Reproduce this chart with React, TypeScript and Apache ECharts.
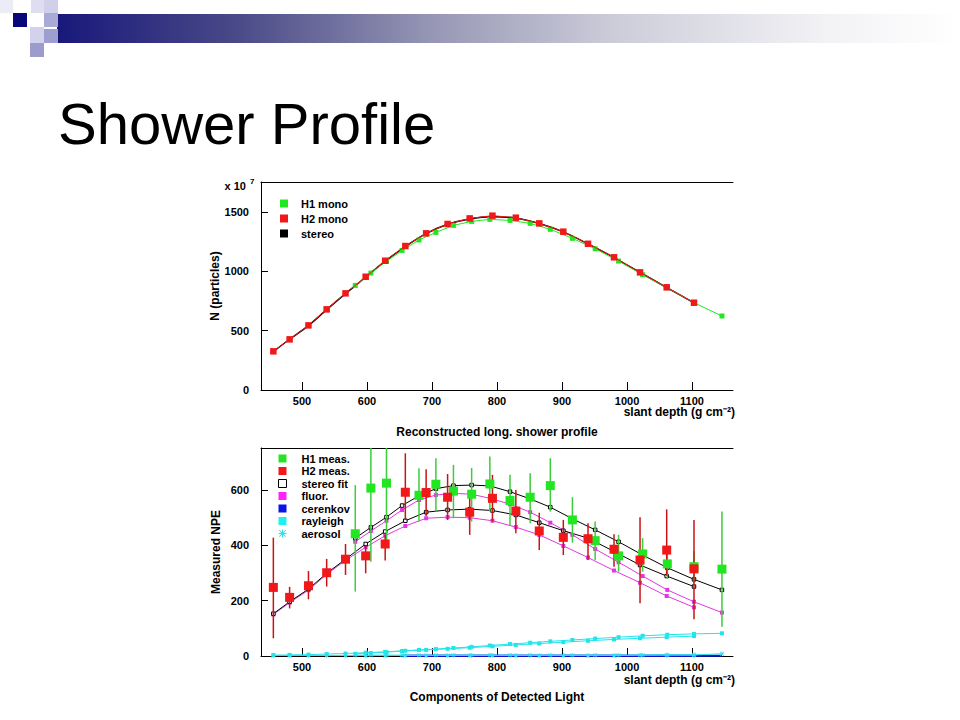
import React, { useEffect, useRef } from "react";
import * as echarts from "echarts";

// ---------- data ----------
const H2_DEPTH = [456, 481, 510, 538, 567, 598, 628, 659, 691, 724, 758, 793, 829, 865, 902, 940, 980, 1020, 1061, 1103];
const H1_DEPTH = [582, 606, 630, 654, 680, 706, 733, 761, 789, 820, 851, 882, 916, 951, 987, 1024, 1062, 1103, 1146];

// top panel: N (particles) x 10^7
const H1_MONO = [882, 986, 1085, 1177, 1265, 1329, 1388, 1422, 1439, 1430, 1405, 1355, 1279, 1191, 1087, 972, 862, 736, 624];
const H2_MONO = [326, 427, 545, 680, 815, 955, 1090, 1214, 1321, 1400, 1447, 1470, 1453, 1405, 1335, 1233, 1119, 992, 866, 736];
const STEREO = [324, 428, 543, 678, 813, 951, 1086, 1210, 1318, 1397, 1442, 1460, 1449, 1404, 1333, 1232, 1117, 991, 864, 734];

// bottom panel: measured NPE
const H1_MEAS_DEPTH = [582, 606, 630, 680, 706, 733, 761, 789, 820, 851, 882, 916, 951, 987, 1024, 1062, 1103, 1146];
const H1_MEAS = [442, 607, 625, 581, 621, 596, 585, 622, 562, 574, 616, 492, 417, 362, 369, 333, 323, 314];
const H1_LO = [233, 341, 413, 486, 522, 498, 486, 522, 474, 480, 522, 410, 347, 305, 305, 280, 265, 106];
const H1_HI = [618, 780, 780, 679, 715, 691, 680, 721, 655, 661, 715, 574, 486, 438, 426, 395, 380, 522];

const H2_MEAS = [248, 212, 254, 301, 350, 362, 405, 592, 591, 574, 520, 570, 524, 452, 429, 424, 386, 347, 383, 315];
const H2_LO = [64, 172, 205, 251, 293, 299, 345, 492, 506, 492, 438, 486, 444, 383, 365, 347, 323, 191, 290, 133];
const H2_HI = [428, 250, 307, 351, 405, 398, 438, 733, 675, 658, 594, 655, 600, 518, 492, 480, 440, 502, 530, 492];

const FIT_H1 = [426, 465, 502, 544, 579, 605, 616, 618, 615, 594, 568, 538, 496, 456, 413, 365, 319, 277, 239];
const FIT_H2 = [153, 196, 242, 299, 350, 405, 450, 489, 520, 528, 531, 526, 510, 482, 453, 426, 378, 329, 289, 251];
const FLUOR_H1 = [413, 452, 489, 528, 564, 582, 588, 585, 570, 549, 520, 482, 438, 387, 339, 289, 239, 196, 157];
const FLUOR_H2 = [150, 193, 238, 295, 346, 393, 435, 470, 498, 502, 500, 489, 466, 438, 398, 356, 309, 265, 217, 176];
const CERENKOV_H1 = [null, null, null, 1, 1, 1, 1, 1, 1, 1, 1, 1, 1, 1, 1, 1, 1, 1, 1];
const CERENKOV_H2 = [null, null, null, null, null, null, null, 1, 1, 1, 1, 1, 1, 1, 1, 1, 1, 1, 1, 1];
const RAYLEIGH_H1 = [8, 11, 14, 18, 22, 25, 29, 33, 38, 43, 48, 53, 58, 63, 68, 73, 77, 80, 82];
const RAYLEIGH_H2 = [3, 4, 5, 7, 9, 12, 15, 19, 22, 26, 30, 35, 40, 45, 50, 55, 60, 64, 68, 72];
const AEROSOL_H1 = [3, 3, 3, 3, 3, 3, 3, 3, 3, 3, 3, 3, 3, 3, 3, 3, 4, 4, 8];
const AEROSOL_H2 = [2, 2, 2, 2, 2, 2, 2, 2, 2, 2, 2, 2, 2, 2, 2, 2, 2, 3, 3, 3];

const X_TICKS = [500, 600, 700, 800, 900, 1000, 1100];
const Y1_TICKS = [0, 500, 1000, 1500];
const Y2_TICKS = [0, 200, 400, 600];

// ---------- styling ----------
const FONT = "'Liberation Sans', Arial, Helvetica, sans-serif";
const X_MIN = 437;
const X_MAX = 1163;
const Y1_MAX = 1754;
const Y2_MAX = 752;
const GREEN = "#22e622";
const RED = "#f01818";
const GREEN_ERR = "#3ccc3c";
const RED_ERR = "#c81414";
const MAGENTA = "#e236e2";
const CYAN = "#22e4ec";
const BLUE = "#1212d8";
const ASTERISK =
  "path://M4.4 0H5.6V10H4.4Z M0 4.4H10V5.6H0Z M0.6 1.45L1.45 0.6L9.4 8.55L8.55 9.4Z M8.55 0.6L9.4 1.45L1.45 9.4L0.6 8.55Z";

const pairs = (xs: number[], ys: (number | null)[]) =>
  xs.map((x, i) => [x, ys[i]]).filter((p) => p[1] !== null);

const plain = (v: number) => String(v);
const boldText = { color: "#000", fontSize: 11, fontWeight: "bold" as const, fontFamily: FONT };

function xAxisBottom(gridIndex: number, name: string, nameGap: number) {
  return {
    type: "value",
    gridIndex,
    min: X_MIN,
    max: X_MAX,
    position: "bottom",
    axisLine: { show: true, onZero: false, lineStyle: { color: "#000", width: 1 } },
    axisTick: { show: true, inside: true, length: 8, customValues: X_TICKS, lineStyle: { color: "#000", width: 1 } },
    axisLabel: { show: true, customValues: X_TICKS, formatter: plain, margin: 5, ...boldText },
    splitLine: { show: false },
    name,
    nameLocation: "middle",
    nameGap,
    nameTextStyle: { ...boldText, fontSize: 12 },
  };
}
function xAxisTop(gridIndex: number) {
  return {
    type: "value",
    gridIndex,
    min: X_MIN,
    max: X_MAX,
    position: "top",
    axisLine: { show: true, onZero: false, lineStyle: { color: "#000", width: 1 } },
    axisTick: { show: false },
    axisLabel: { show: false },
    splitLine: { show: false },
  };
}
function yAxis(gridIndex: number, max: number, ticks: number[], name: string) {
  return {
    type: "value",
    gridIndex,
    min: 0,
    max,
    axisLine: { show: true, onZero: false, lineStyle: { color: "#000", width: 1 } },
    axisTick: { show: true, inside: true, length: 7, customValues: ticks, lineStyle: { color: "#000", width: 1 } },
    axisLabel: { show: true, customValues: ticks, formatter: plain, margin: 12, ...boldText },
    splitLine: { show: false },
    name,
    nameLocation: "middle",
    nameRotate: 90,
    nameGap: 39,
    nameTextStyle: { ...boldText, fontSize: 12 },
  };
}

function errorSeries(name: string, xs: number[], lo: number[], hi: number[], color: string, yMax: number, xIdx: number, yIdx: number) {
  return {
    type: "custom",
    name,
    xAxisIndex: xIdx,
    yAxisIndex: yIdx,
    silent: true,
    z: 3,
    data: xs.map((x, i) => [x, lo[i], hi[i]]),
    encode: { x: 0, y: [1, 2] },
    renderItem: (_params: any, api: any) => {
      const x = api.value(0);
      const p1 = api.coord([x, api.value(1)]);
      const p2 = api.coord([x, Math.min(api.value(2), yMax)]);
      return {
        type: "line",
        shape: { x1: p1[0], y1: p1[1], x2: p2[0], y2: p2[1] },
        style: { stroke: color, lineWidth: 1.5 },
      };
    },
  };
}

function lineSeries(name: string, xs: number[], ys: (number | null)[], opts: any) {
  return {
    type: "line",
    name,
    data: pairs(xs, ys),
    symbol: opts.symbol ?? "rect",
    symbolSize: opts.symbolSize ?? 4,
    showSymbol: opts.showSymbol ?? true,
    smooth: opts.smooth ?? false,
    xAxisIndex: opts.xIdx,
    yAxisIndex: opts.yIdx,
    z: opts.z ?? 2,
    silent: true,
    lineStyle: { color: opts.lineColor, width: opts.lineWidth ?? 1 },
    itemStyle: { color: opts.fill, borderColor: opts.border ?? opts.fill, borderWidth: opts.borderWidth ?? 0, opacity: 1 },
  };
}

const option: any = {
  animation: false,
  backgroundColor: "#ffffff",
  grid: [
    { left: 261, top: 182, width: 472, height: 208, containLabel: false },
    { left: 261, top: 448, width: 472, height: 208, containLabel: false },
  ],
  xAxis: [
    xAxisBottom(0, "Reconstructed long. shower profile", 36),
    xAxisTop(0),
    xAxisBottom(1, "Components of Detected Light", 35),
    xAxisTop(1),
  ],
  yAxis: [yAxis(0, Y1_MAX, Y1_TICKS, "N (particles)"), yAxis(1, Y2_MAX, Y2_TICKS, "Measured NPE")],
  legend: [
    {
      left: 280,
      top: 198,
      padding: 0,
      orient: "vertical",
      itemWidth: 8,
      itemHeight: 8,
      itemGap: 4,
      selectedMode: false,
      textStyle: { ...boldText, lineHeight: 11, padding: [0, 0, 0, 8] },
      data: [
        { name: "H1 mono", icon: "rect", itemStyle: { color: GREEN, borderWidth: 0 } },
        { name: "H2 mono", icon: "rect", itemStyle: { color: RED, borderWidth: 0 } },
        { name: "stereo", icon: "rect", itemStyle: { color: "#000", borderWidth: 0 } },
      ],
    },
    {
      left: 278,
      top: 453,
      padding: 0,
      orient: "vertical",
      itemWidth: 8,
      itemHeight: 8,
      itemGap: 1.5,
      selectedMode: false,
      textStyle: { ...boldText, lineHeight: 11, padding: [0, 0, 0, 10] },
      data: [
        { name: "H1 meas.", icon: "rect", itemStyle: { color: GREEN, borderWidth: 0 } },
        { name: "H2 meas.", icon: "rect", itemStyle: { color: RED, borderWidth: 0 } },
        { name: "stereo fit", icon: "rect", itemStyle: { color: "#fff", borderColor: "#000", borderWidth: 1 } },
        { name: "fluor.", icon: "rect", itemStyle: { color: "#ff22ff", borderWidth: 0 } },
        { name: "cerenkov", icon: "rect", itemStyle: { color: "#0a14e6", borderWidth: 0 } },
        { name: "rayleigh", icon: "rect", itemStyle: { color: "#22f0f0", borderWidth: 0 } },
        { name: "aerosol", icon: ASTERISK, itemStyle: { color: CYAN, borderWidth: 0 } },
      ],
    },
  ],
  graphic: [
    // header decoration
    {
      type: "rect",
      shape: { x: 57, y: 14, width: 903, height: 29 },
      style: {
        fill: new echarts.graphic.LinearGradient(0, 0, 1, 0, [
          { offset: 0, color: "#18187a" },
          { offset: 0.2, color: "#4a4a88" },
          { offset: 0.42, color: "#9898b6" },
          { offset: 0.62, color: "#cdcdda" },
          { offset: 0.85, color: "#f2f2f5" },
          { offset: 1, color: "#ffffff" },
        ]),
      },
      silent: true,
    },
    { type: "rect", shape: { x: 0, y: 0, width: 13, height: 13 }, style: { fill: "#ececf6" }, silent: true },
    { type: "rect", shape: { x: 31, y: 0, width: 13, height: 13 }, style: { fill: "#dedef0" }, silent: true },
    { type: "rect", shape: { x: 44, y: 0, width: 14, height: 13 }, style: { fill: "#d0d0ea" }, silent: true },
    { type: "rect", shape: { x: 13, y: 13, width: 14, height: 14 }, style: { fill: "#08087a" }, silent: true },
    { type: "rect", shape: { x: 44, y: 13, width: 14, height: 14 }, style: { fill: "#aaaad8" }, silent: true },
    { type: "rect", shape: { x: 30, y: 27, width: 14, height: 16 }, style: { fill: "#d2d2ec" }, silent: true },
    { type: "rect", shape: { x: 44, y: 29, width: 14, height: 14 }, style: { fill: "#9e9ed0" }, silent: true },
    { type: "rect", shape: { x: 30, y: 43, width: 14, height: 14 }, style: { fill: "#9c9ccc" }, silent: true },
    // slide title
    {
      type: "text",
      x: 58,
      y: 123,
      style: { text: "Shower Profile", fontSize: 58, fontFamily: FONT, fill: "#000", verticalAlign: "middle", align: "left" },
      silent: true,
    },
    // axis annotations
    {
      type: "text",
      x: 246,
      y: 186,
      style: { text: "x 10", fontSize: 11, fontWeight: "bold", fontFamily: FONT, fill: "#000", align: "right", verticalAlign: "middle" },
      silent: true,
    },
    {
      type: "text",
      x: 250,
      y: 181,
      style: { text: "7", fontSize: 8, fontWeight: "bold", fontFamily: FONT, fill: "#000", align: "left", verticalAlign: "middle" },
      silent: true,
    },
    {
      type: "text",
      x: 735,
      y: 412,
      style: { text: "slant depth (g cm⁻²)", fontSize: 12, fontWeight: "bold", fontFamily: FONT, fill: "#000", align: "right", verticalAlign: "middle" },
      silent: true,
    },
    {
      type: "text",
      x: 735,
      y: 680,
      style: { text: "slant depth (g cm⁻²)", fontSize: 12, fontWeight: "bold", fontFamily: FONT, fill: "#000", align: "right", verticalAlign: "middle" },
      silent: true,
    },
  ],
  series: [
    // ---- top panel ----
    lineSeries("stereo", H2_DEPTH, STEREO, { xIdx: 0, yIdx: 0, showSymbol: false, smooth: 0.3, lineColor: "#000", lineWidth: 1.5, fill: "#000", z: 2 }),
    lineSeries("H1 mono", H1_DEPTH, H1_MONO, { xIdx: 0, yIdx: 0, symbolSize: 5, lineColor: GREEN, fill: GREEN, z: 3 }),
    lineSeries("H2 mono", H2_DEPTH, H2_MONO, { xIdx: 0, yIdx: 0, symbolSize: 6.5, lineColor: RED, fill: RED, z: 4 }),

    // ---- bottom panel ----
    lineSeries("cerenkov", H1_DEPTH, CERENKOV_H1, { xIdx: 2, yIdx: 1, showSymbol: false, lineColor: BLUE, lineWidth: 2, fill: BLUE, z: 2 }),
    lineSeries("cerenkov", H2_DEPTH, CERENKOV_H2, { xIdx: 2, yIdx: 1, showSymbol: false, lineColor: BLUE, lineWidth: 2, fill: BLUE, z: 2 }),
    lineSeries("aerosol", H1_DEPTH, AEROSOL_H1, { xIdx: 2, yIdx: 1, symbol: ASTERISK, symbolSize: 5, lineColor: CYAN, lineWidth: 1, fill: CYAN, z: 2 }),
    lineSeries("aerosol", H2_DEPTH, AEROSOL_H2, { xIdx: 2, yIdx: 1, symbol: ASTERISK, symbolSize: 5, lineColor: CYAN, lineWidth: 1, fill: CYAN, z: 2 }),
    lineSeries("rayleigh", H1_DEPTH, RAYLEIGH_H1, { xIdx: 2, yIdx: 1, symbolSize: 4, lineColor: CYAN, fill: CYAN, z: 2 }),
    lineSeries("rayleigh", H2_DEPTH, RAYLEIGH_H2, { xIdx: 2, yIdx: 1, symbolSize: 4, lineColor: CYAN, fill: CYAN, z: 2 }),
    lineSeries("fluor.", H1_DEPTH, FLUOR_H1, { xIdx: 2, yIdx: 1, symbolSize: 4, lineColor: MAGENTA, fill: MAGENTA, z: 2 }),
    lineSeries("fluor.", H2_DEPTH, FLUOR_H2, { xIdx: 2, yIdx: 1, symbolSize: 4, lineColor: MAGENTA, fill: MAGENTA, z: 2 }),
    lineSeries("stereo fit", H1_DEPTH, FIT_H1, { xIdx: 2, yIdx: 1, symbolSize: 3.5, lineColor: "#000", fill: "#fff", border: "#000", borderWidth: 1, z: 2 }),
    lineSeries("stereo fit", H2_DEPTH, FIT_H2, { xIdx: 2, yIdx: 1, symbolSize: 3.5, lineColor: "#000", fill: "#fff", border: "#000", borderWidth: 1, z: 2 }),
    errorSeries("H1 err", H1_MEAS_DEPTH, H1_LO, H1_HI, GREEN_ERR, Y2_MAX, 2, 1),
    errorSeries("H2 err", H2_DEPTH, H2_LO, H2_HI, RED_ERR, Y2_MAX, 2, 1),
    {
      type: "scatter",
      name: "H1 meas.",
      xAxisIndex: 2,
      yAxisIndex: 1,
      symbol: "rect",
      symbolSize: 9,
      z: 4,
      silent: true,
      itemStyle: { color: GREEN, opacity: 1 },
      data: pairs(H1_MEAS_DEPTH, H1_MEAS),
    },
    {
      type: "scatter",
      name: "H2 meas.",
      xAxisIndex: 2,
      yAxisIndex: 1,
      symbol: "rect",
      symbolSize: 9,
      z: 5,
      silent: true,
      itemStyle: { color: RED, opacity: 1 },
      data: pairs(H2_DEPTH, H2_MEAS),
    },
  ],
};

export default function App() {
  const ref = useRef<HTMLDivElement>(null);
  useEffect(() => {
    const chart = echarts.init(ref.current as HTMLDivElement, null, { renderer: "svg" });
    chart.setOption(option);
    return () => chart.dispose();
  }, []);
  return (
    <div
      ref={ref}
      style={{ position: "absolute", left: 0, top: 0, width: 960, height: 720, background: "#fff" }}
    />
  );
}
